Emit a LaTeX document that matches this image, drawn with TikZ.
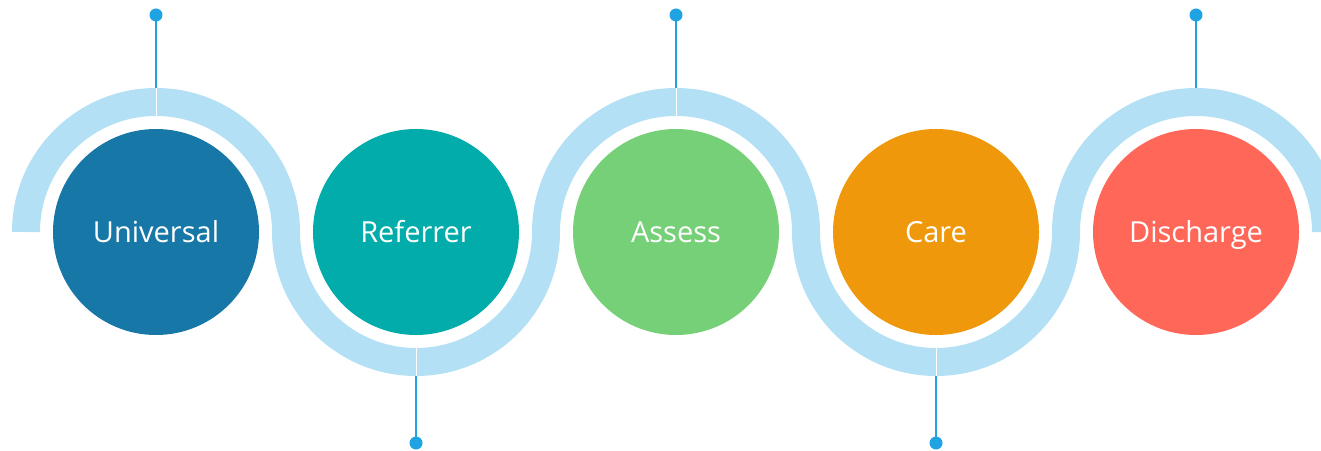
\documentclass[tikz,border=0pt]{standalone}
\usepackage{fontspec}
\setmainfont{Open Sans}
\definecolor{cUni}{HTML}{1778A8}
\definecolor{cRef}{HTML}{02ACAA}
\definecolor{cAss}{HTML}{76D077}
\definecolor{cCare}{HTML}{F0980C}
\definecolor{cDis}{HTML}{FF6759}
\definecolor{band}{HTML}{B3E0F5}
\definecolor{pin}{HTML}{1FA3E3}
\begin{document}
\begin{tikzpicture}[x=1pt,y=1pt,
  stage/.style={circle, fill=#1, minimum size=206pt, inner sep=0pt},
  stagetext/.style={anchor=base, text=white, inner sep=0pt, font=\fontsize{29}{32}\selectfont},
  pindot/.style={circle, fill=pin, minimum size=13pt, inner sep=0pt},
  pinline/.style={draw=pin, line width=2pt},
  sep/.style={draw=white, line width=0.9pt}]
\useasboundingbox (0,0) rectangle (1321,450);
\clip (0,0) rectangle (1321,450);
% band
\draw[band, line width=28pt, line cap=butt]
  (26,218) arc[start angle=180, end angle=0, radius=130]
  arc[start angle=180, end angle=360, radius=130]
  arc[start angle=180, end angle=0, radius=130]
  arc[start angle=180, end angle=360, radius=130]
  arc[start angle=180, end angle=0, radius=130];
% separators
\draw[sep] (156,362) -- (156,334);
\draw[sep] (416,74) -- (416,102);
\draw[sep] (676,362) -- (676,334);
\draw[sep] (936,74) -- (936,102);
% circles
\node[stage=cUni] (c1) at (156,218) {};
\node[stage=cRef] (c2) at (416,218) {};
\node[stage=cAss] (c3) at (676,218) {};
\node[stage=cCare] (c4) at (936,218) {};
\node[stage=cDis] (c5) at (1196,218) {};
\node[stagetext] (l1) at (156,207) {Universal};
\node[stagetext] (l2) at (416,207) {Referrer};
\node[stagetext] (l3) at (676,207) {Assess};
\node[stagetext] (l4) at (936,207) {Care};
\node[stagetext] (l5) at (1196,207) {Discharge};
% pins
\coordinate (t1) at (156,362);
\coordinate (t3) at (676,362);
\coordinate (t5) at (1196,362);
\coordinate (b2) at (416,74);
\coordinate (b4) at (936,74);
\node[pindot] (p1) at (156,435) {};
\node[pindot] (p3) at (676,435) {};
\node[pindot] (p5) at (1196,435) {};
\node[pindot] (p2) at (416,7) {};
\node[pindot] (p4) at (936,7) {};
\draw[pinline] (p1.center) -- (t1);
\draw[pinline] (p3.center) -- (t3);
\draw[pinline] (p5.center) -- (t5);
\draw[pinline] (p2.center) -- (b2);
\draw[pinline] (p4.center) -- (b4);
\end{tikzpicture}
\end{document}
